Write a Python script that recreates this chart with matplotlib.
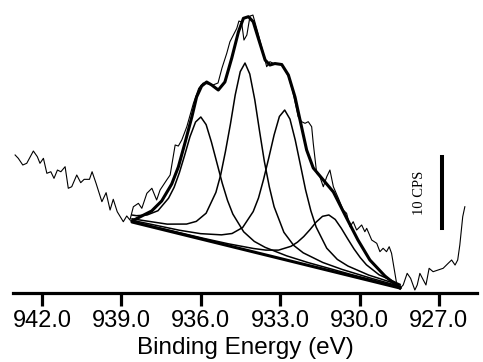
import matplotlib
matplotlib.use('Agg')
import matplotlib.pyplot as plt

# Raw spectrum (binding energy in eV, intensity in CPS)
rawE = [943.02, 942.90, 942.73, 942.58, 942.33, 942.18, 942.08, 941.95, 941.82, 941.67,
        941.55, 941.42, 941.29, 941.13, 941.01, 940.88, 940.69, 940.54, 940.41, 940.21,
        940.11, 939.96, 939.74, 939.58, 939.43, 939.31, 939.16, 938.93, 938.80, 938.68,
        938.55, 938.36, 938.23, 938.04, 937.85, 937.67, 937.54, 937.29, 937.16, 936.97,
        936.85, 936.72, 936.53, 936.28, 936.08, 935.91, 935.72, 935.54, 935.35, 935.20,
        935.02, 934.90, 934.64, 934.56, 934.46, 934.37, 934.26, 934.14, 934.03, 933.84,
        933.65, 933.51, 933.39, 933.20, 932.94, 932.69, 932.52, 932.32, 932.19, 932.06,
        931.94, 931.81, 931.75, 931.62, 931.50, 931.37, 931.24, 931.12, 930.99, 930.80,
        930.62, 930.49, 930.36, 930.24, 930.11, 929.92, 929.80, 929.73, 929.54, 929.35,
        929.23, 929.11, 928.98, 928.88, 928.79, 928.60, 928.47, 928.35, 928.20, 928.07,
        927.91, 927.82, 927.72, 927.59, 927.49, 927.37, 927.22, 927.03, 926.84, 926.65,
        926.52, 926.39, 926.29, 926.21, 926.10, 926.02]
rawI = [19.44, 18.97, 18.03, 18.27, 20.00, 19.20, 18.27, 18.97, 16.86, 17.08,
        16.15, 17.32, 17.08, 17.79, 14.75, 14.97, 16.62, 15.54, 16.01, 16.01,
        17.08, 15.45, 12.86, 14.13, 11.69, 13.20, 11.45, 10.04, 10.85, 10.28,
        12.15, 12.63, 11.93, 14.04, 14.75, 13.10, 14.51, 15.92, 16.62, 20.85,
        20.70, 21.55, 23.42, 26.72, 28.83, 29.58, 29.44, 29.30, 29.58, 31.69,
        33.76, 35.39, 37.28, 38.31, 38.17, 35.63, 36.34, 39.01, 39.15, 36.62,
        33.94, 31.87, 32.58, 32.25, 32.25, 30.56, 28.31, 24.83, 24.13, 23.90,
        24.13, 23.42, 21.08, 16.86, 16.38, 14.97, 16.38, 17.32, 14.97, 13.34,
        11.69, 11.23, 9.34, 10.04, 8.87, 9.58, 8.63, 9.11, 7.46, 7.00,
        5.82, 6.30, 5.82, 6.52, 5.59, 1.37, 0.66, 1.13, 2.77, 2.07,
        0.42, 1.13, 2.77, 1.83, 1.13, 3.48, 3.00, 3.24, 3.48, 4.18,
        4.65, 3.94, 4.65, 6.76, 10.75, 12.15]

# Total fit envelope
envE = [938.60, 938.23, 937.86, 937.48, 937.10, 936.85, 936.60, 936.34, 936.16, 935.97,
        935.78, 935.59, 935.34, 935.09, 934.83, 934.58, 934.39, 934.20, 934.02, 933.83,
        933.57, 933.39, 933.20, 932.94, 932.69, 932.44, 932.25, 932.00, 931.75, 931.37,
        930.99, 930.49, 930.06, 929.61, 929.04, 928.47]
envI = [10.14, 10.85, 11.55, 12.96, 15.35, 17.75, 21.13, 24.79, 27.61, 29.15,
        29.72, 29.30, 28.59, 29.72, 33.10, 36.76, 38.69, 38.92, 38.21, 35.92,
        32.82, 32.11, 32.32, 32.18, 30.70, 27.61, 24.37, 20.14, 17.61, 15.92,
        14.23, 10.56, 7.46, 4.65, 2.39, 0.70]

# Linear background
bgE = [938.60, 928.47]
bgI = [10.00, 0.70]

# Fitted components
p1E = [938.60, 938.43, 938.03, 937.62, 937.22, 937.01, 936.81, 936.61, 936.41, 936.20,
       936.00, 935.80, 935.60, 935.39, 935.19, 934.99, 934.79, 934.38, 933.98, 933.57,
       932.76, 931.95, 930.33, 928.47]
p1I = [10.98, 10.89, 10.99, 11.59, 13.35, 14.88, 16.95, 19.42, 22.01, 24.08,
       24.79, 23.72, 21.27, 18.30, 15.46, 13.03, 11.12, 8.62, 7.27, 6.43,
       5.24, 4.29, 2.62, 0.82]

p2E = [938.60, 937.27, 936.54, 936.17, 935.80, 935.43, 935.25, 935.07, 934.88, 934.70,
       934.51, 934.33, 934.15, 933.96, 933.78, 933.60, 933.41, 933.23, 932.86, 932.49,
       932.13, 931.39, 930.66, 929.55, 928.47]
p2I = [10.45, 9.70, 9.71, 10.09, 11.24, 14.17, 16.63, 19.92, 23.81, 27.89,
       31.18, 32.39, 30.85, 27.21, 22.80, 18.57, 14.94, 12.15, 8.55, 6.71,
       5.66, 4.30, 3.32, 2.06, 0.94]

p3E = [938.60, 936.81, 936.01, 935.22, 934.82, 934.42, 934.02, 933.82, 933.63, 933.43,
       933.23, 933.03, 932.83, 932.63, 932.43, 932.23, 932.04, 931.84, 931.64, 931.24,
       930.84, 930.44, 929.65, 928.47]
p3I = [10.24, 8.84, 8.36, 8.19, 8.38, 9.22, 11.47, 13.38, 15.98, 19.05,
       22.26, 24.86, 25.77, 24.49, 21.53, 17.95, 14.52, 11.57, 9.28, 6.31,
       4.73, 3.80, 2.52, 1.11]

p4E = [938.60, 935.91, 934.96, 934.01, 933.54, 933.06, 932.59, 932.35, 932.11, 931.87,
       931.64, 931.40, 931.16, 930.92, 930.69, 930.45, 930.21, 929.97, 929.74, 929.26,
       928.47]
p4I = [10.08, 7.71, 6.93, 6.27, 6.04, 6.04, 6.58, 7.15, 7.95, 8.94,
       9.99, 10.80, 10.99, 10.36, 9.12, 7.64, 6.21, 4.97, 3.97, 2.56,
       1.22]

# 10 CPS scale bar
barE = [926.89, 926.89]
barI = [9.15, 19.15]

xTicks = [942.0, 939.0, 936.0, 933.0, 930.0, 927.0]

plt.rcParams['font.family'] = ['Liberation Sans', 'DejaVu Sans']

fig = plt.figure(figsize=(4.83, 3.62), dpi=100)
ax = fig.add_axes([0.0269, 0.1906, 0.9607, 0.8094])

ax.plot(rawE, rawI, color='black', linewidth=0.8)
for e, i in [(p1E, p1I), (p2E, p2I), (p3E, p3I), (p4E, p4I)]:
    ax.plot(e, i, color='black', linewidth=1.1)
ax.plot(bgE, bgI, color='black', linewidth=2.2, solid_capstyle='round')
ax.plot(envE, envI, color='black', linewidth=2.2, solid_joinstyle='round')

# scale bar + label
ax.plot(barE, barI, color='black', linewidth=2.9)
ax.text(927.72, 14.15, '10 CPS', rotation=90, ha='center', va='center',
        fontsize=10.5, family='Liberation Serif')

ax.set_xlim(943.10, 925.56)
ax.set_ylim(0, 41.27)
ax.set_xticks(xTicks)
ax.set_xticklabels([f'{t:.1f}' for t in xTicks])
ax.set_yticks([])
ax.set_xlabel('Binding Energy (eV)', fontsize=17.5, labelpad=4)

for s in ['top', 'right', 'left']:
    ax.spines[s].set_visible(False)
ax.spines['bottom'].set_linewidth(2.3)
ax.tick_params(axis='x', direction='out', length=9, width=2.3,
               labelsize=17, pad=3)
ax.patch.set_alpha(0)

fig.savefig('out.png', dpi=100)
